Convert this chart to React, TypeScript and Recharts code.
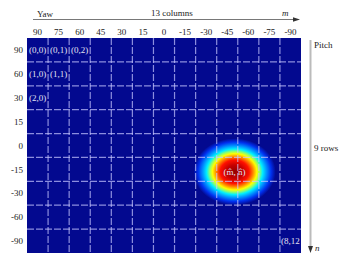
import { ScatterChart, Scatter, XAxis, YAxis, ReferenceArea, ReferenceLine } from 'recharts';

// yaw angle per column (m axis), pitch angle per row (n axis)
const yawLabels = ['90', '75', '60', '45', '30', '15', '0', '-15', '-30', '-45', '-60', '-75', '-90'];
const pitchLabels = ['90', '60', '30', '15', '0', '-15', '-30', '-60', '-90'];

// a few cells carry their (row,col) index
const cellRows = [0, 0, 0, 1, 1, 2, 8];
const cellCols = [0, 1, 2, 0, 1, 0, 12];
const cellTexts = ['(0,0)', '(0,1)', '(0,2)', '(1,0)', '(1,1)', '(2,0)', '(8,12'];

// the peak of the heat blob, in grid units
const peak = { col: 9.85, row: 5.6, spreadCol: 1.95, spreadRow: 1.4, text: '(m\u0302, n\u0302)' };

const FONT = '"Liberation Serif", "Times New Roman", serif';
const NAVY = '#03098f';

const cellData = cellTexts.map((text, i) => ({ col: cellCols[i] + 0.5, row: cellRows[i] + 0.5, text }));
const peakData = [{ col: peak.col, row: peak.row, text: peak.text }];
const colLines = yawLabels.slice(1).map((_, i) => i + 1);
const rowLines = pitchLabels.slice(1).map((_, i) => i + 1);
const colTicks = yawLabels.map((_, i) => i + 0.5);
const rowTicks = pitchLabels.map((_, i) => i + 0.5);

const jetStops: [number, string][] = [
  [0, '#940000'],
  [0.2, '#c40000'],
  [0.35, '#ff1000'],
  [0.45, '#ff8800'],
  [0.54, '#ffff00'],
  [0.61, '#8aff70'],
  [0.68, '#00f0ff'],
  [0.78, '#0090ff'],
  [0.89, '#0030ee'],
  [1, NAVY],
];

const Blob = (props: any) => {
  const { x, y, width, height } = props;
  return (
    <g>
      <defs>
        <radialGradient id="jetBlob">
          {jetStops.map(([o, c]) => (
            <stop key={o} offset={o} stopColor={c} />
          ))}
        </radialGradient>
      </defs>
      <ellipse cx={x + width / 2} cy={y + height / 2} rx={width / 2} ry={height / 2} fill="url(#jetBlob)" />
    </g>
  );
};

const CellText = (props: any) => (
  <text
    x={props.cx}
    y={props.cy}
    dy="0.35em"
    textAnchor="middle"
    fontSize={9}
    fontFamily={FONT}
    fill="#e2e2f2"
  >
    {props.payload.text}
  </text>
);

export default function App() {
  const tickStyle = { fill: '#222', fontSize: 9, fontFamily: FONT };
  const gridLine = { stroke: '#c8c8ff', strokeOpacity: 0.7, strokeWidth: 1.2, strokeDasharray: '7 2' };
  return (
    <div style={{ position: 'absolute', left: 0, top: 0, width: 349, height: 258, background: '#fff' }}>
      <ScatterChart width={349} height={258} margin={{ top: 18, right: 48, bottom: 5, left: 0 }}>
        <XAxis
          type="number"
          dataKey="col"
          orientation="top"
          domain={[0, yawLabels.length]}
          ticks={colTicks}
          tickFormatter={(v: number) => yawLabels[Math.floor(v)]}
          height={20}
          axisLine={false}
          tickLine={false}
          tickSize={0}
          tickMargin={3}
          tick={tickStyle}
          interval={0}
        />
        <YAxis
          type="number"
          dataKey="row"
          domain={[0, pitchLabels.length]}
          reversed
          ticks={rowTicks}
          tickFormatter={(v: number) => pitchLabels[Math.floor(v)]}
          width={27}
          axisLine={false}
          tickLine={false}
          tickSize={0}
          tickMargin={4}
          tick={tickStyle}
          interval={0}
        />
        <ReferenceArea
          x1={0}
          x2={yawLabels.length}
          y1={0}
          y2={pitchLabels.length}
          fill={NAVY}
          fillOpacity={1}
          stroke="none"
        />
        <ReferenceArea
          x1={peak.col - peak.spreadCol}
          x2={peak.col + peak.spreadCol}
          y1={peak.row - peak.spreadRow}
          y2={peak.row + peak.spreadRow}
          shape={<Blob />}
        />
        {colLines.map((c) => (
          <ReferenceLine key={`c${c}`} x={c} {...gridLine} />
        ))}
        {rowLines.map((r) => (
          <ReferenceLine key={`r${r}`} y={r} {...gridLine} />
        ))}
        <Scatter data={cellData} shape={<CellText />} isAnimationActive={false} />
        <Scatter data={peakData} shape={<CellText />} isAnimationActive={false} />
      </ScatterChart>
      <svg
        width={349}
        height={258}
        style={{ position: 'absolute', left: 0, top: 0, pointerEvents: 'none' }}
        fontFamily={FONT}
        fontSize={9}
        fill="#222"
      >
        <text x={37} y={17}>Yaw</text>
        <text x={151} y={16}>13 columns</text>
        <text x={282} y={16} fontStyle="italic">m</text>
        <line x1={33} y1={19.5} x2={295} y2={19.5} stroke="#555" strokeWidth={0.8} />
        <polygon points="300,19.5 293,17.3 293,21.7" fill="#333" />
        <line x1={310.5} y1={40} x2={310.5} y2={248} stroke="#bbb" strokeWidth={2} />
        <polygon points="310.5,253 308,246 313,246" fill="#333" />
        <text x={314} y={48}>Pitch</text>
        <text x={314} y={151}>9 rows</text>
        <text x={315} y={251} fontStyle="italic">n</text>
      </svg>
    </div>
  );
}
